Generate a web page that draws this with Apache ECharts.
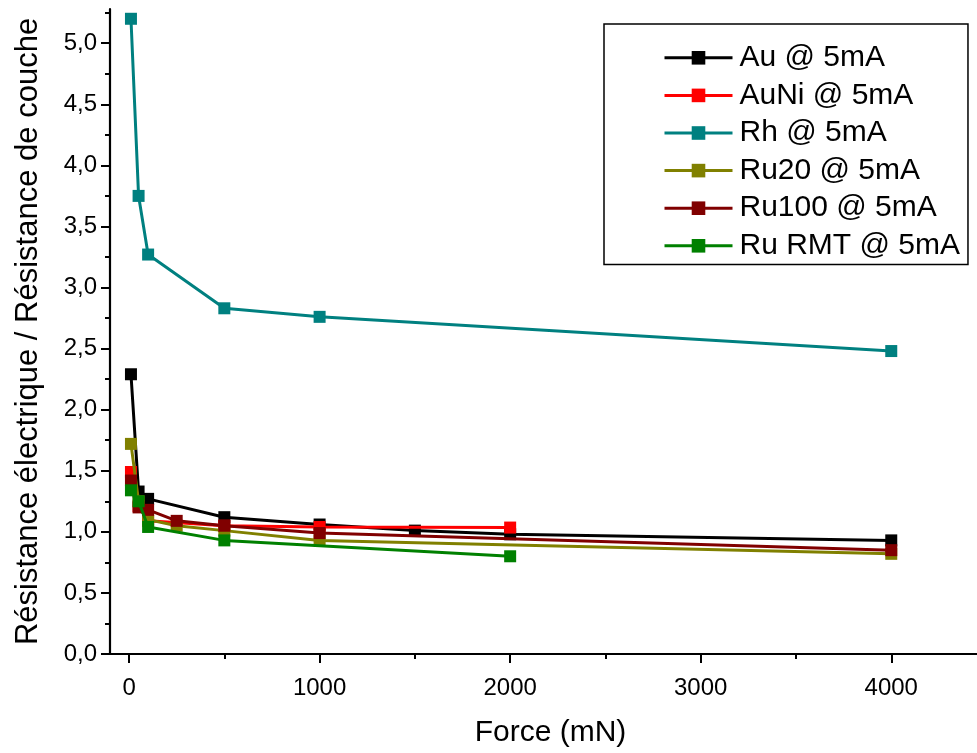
<!DOCTYPE html>
<html>
<head>
<meta charset="utf-8">
<script src="https://cdn.jsdelivr.net/npm/echarts@6/dist/echarts.min.js"></script>
<style>
html,body{margin:0;padding:0;background:#fff;}
#chart{width:977px;height:753px;}
</style>
</head>
<body>
<div id="chart"></div>
<script>
// ---- data ----
const seriesNames = ['Au @ 5mA', 'AuNi @ 5mA', 'Rh @ 5mA', 'Ru20 @ 5mA', 'Ru100 @ 5mA', 'Ru RMT @ 5mA'];
const seriesColors = ['#000000', '#ff0000', '#008080', '#808000', '#800000', '#008000'];

const auForce = [10, 50, 100, 500, 1000, 1500, 2000, 4000];
const auValues = [2.29, 1.33, 1.27, 1.12, 1.06, 1.01, 0.98, 0.93];

const auniForce = [10, 50, 100, 500, 1000, 2000];
const auniValues = [1.49, 1.21, 1.09, 1.05, 1.04, 1.035];

const rhForce = [10, 50, 100, 500, 1000, 4000];
const rhValues = [5.2, 3.75, 3.27, 2.83, 2.76, 2.48];

const ru20Force = [10, 50, 100, 250, 500, 1000, 4000];
const ru20Values = [1.72, 1.25, 1.10, 1.05, 1.01, 0.93, 0.82];

const ru100Force = [10, 50, 100, 250, 500, 1000, 4000];
const ru100Values = [1.42, 1.20, 1.18, 1.09, 1.05, 0.99, 0.85];

const rurmtForce = [10, 50, 100, 500, 2000];
const rurmtValues = [1.34, 1.25, 1.04, 0.93, 0.80];

const xMajorTicks = [0, 1000, 2000, 3000, 4000];
const xMinorTicks = [500, 1500, 2500, 3500];
const yMajorTicks = [0, 0.5, 1, 1.5, 2, 2.5, 3, 3.5, 4, 4.5, 5];
const yMinorTicks = [0.25, 0.75, 1.25, 1.75, 2.25, 2.75, 3.25, 3.75, 4.25, 4.75, 5.25];

const xTitle = 'Force (mN)';
const yTitle = 'Résistance électrique / Résistance de couche';

// ---- build ----
const forces = [auForce, auniForce, rhForce, ru20Force, ru100Force, rurmtForce];
const values = [auValues, auniValues, rhValues, ru20Values, ru100Values, rurmtValues];

const FONT = "'Liberation Sans', Arial, sans-serif";
const X_MIN = -100, X_MAX = 4450, Y_MIN = 0, Y_MAX = 5.28;

const series = seriesNames.map((name, i) => ({
  name: name,
  type: 'line',
  xAxisIndex: 0,
  yAxisIndex: 0,
  data: forces[i].map((f, j) => [f, values[i][j]]),
  symbol: 'rect',
  symbolSize: 12,
  showAllSymbol: true,
  color: seriesColors[i],
  lineStyle: { width: 3, color: seriesColors[i] },
  itemStyle: { color: seriesColors[i] },
  animation: false,
  z: 2 + i
}));

const fmtY = v => v.toFixed(1).replace('.', ',');
const fmtX = v => String(Math.round(v));

const chart = echarts.init(document.getElementById('chart'), null, { renderer: 'canvas' });
chart.setOption({
  backgroundColor: '#ffffff',
  animation: false,
  textStyle: { fontFamily: FONT },
  grid: { left: 110, right: 0, top: 9, bottom: 96, containLabel: false },
  legend: {
    orient: 'vertical',
    left: 604,
    top: 24,
    padding: [15, 8, 0, 59],
    itemGap: 0,
    itemWidth: 68,
    itemHeight: 17,
    backgroundColor: '#ffffff',
    borderColor: '#000000',
    borderWidth: 1.5,
    borderRadius: 0,
    lineStyle: { width: 3 },
    textStyle: { fontFamily: FONT, fontSize: 30, color: '#000', lineHeight: 37.6, padding: [0, 0, 0, 2] },
    data: seriesNames
  },
  xAxis: [
    {
      type: 'value',
      min: X_MIN, max: X_MAX,
      position: 'bottom',
      name: xTitle,
      nameLocation: 'middle',
      nameGap: 64,
      nameTextStyle: { fontFamily: FONT, fontSize: 30, color: '#000', padding: [0, 0, 0, 14] },
      axisLine: { show: true, onZero: false, lineStyle: { color: '#000', width: 2.2 } },
      axisTick: { show: true, inside: false, length: 9, customValues: xMajorTicks, lineStyle: { color: '#000', width: 2 } },
      axisLabel: { show: true, margin: 22, customValues: xMajorTicks, formatter: fmtX, fontFamily: FONT, fontSize: 24, color: '#000' },
      splitLine: { show: false }
    },
    {
      type: 'value',
      min: X_MIN, max: X_MAX,
      position: 'bottom',
      axisLine: { show: false, onZero: false },
      axisTick: { show: true, inside: false, length: 5, customValues: xMinorTicks, lineStyle: { color: '#000', width: 2 } },
      axisLabel: { show: false },
      splitLine: { show: false }
    }
  ],
  yAxis: [
    {
      type: 'value',
      min: Y_MIN, max: Y_MAX,
      position: 'left',
      name: yTitle,
      nameLocation: 'middle',
      nameGap: 66,
      nameTextStyle: { fontFamily: FONT, fontSize: 31, color: '#000' },
      axisLine: { show: true, onZero: false, lineStyle: { color: '#000', width: 2.2 } },
      axisTick: { show: true, inside: false, length: 9, customValues: yMajorTicks, lineStyle: { color: '#000', width: 2 } },
      axisLabel: { show: true, margin: 13, customValues: yMajorTicks, formatter: fmtY, fontFamily: FONT, fontSize: 24, color: '#000' },
      splitLine: { show: false }
    },
    {
      type: 'value',
      min: Y_MIN, max: Y_MAX,
      position: 'left',
      axisLine: { show: false, onZero: false },
      axisTick: { show: true, inside: false, length: 5, customValues: yMinorTicks, lineStyle: { color: '#000', width: 2 } },
      axisLabel: { show: false },
      splitLine: { show: false }
    }
  ],
  series: series
});
</script>
</body>
</html>
